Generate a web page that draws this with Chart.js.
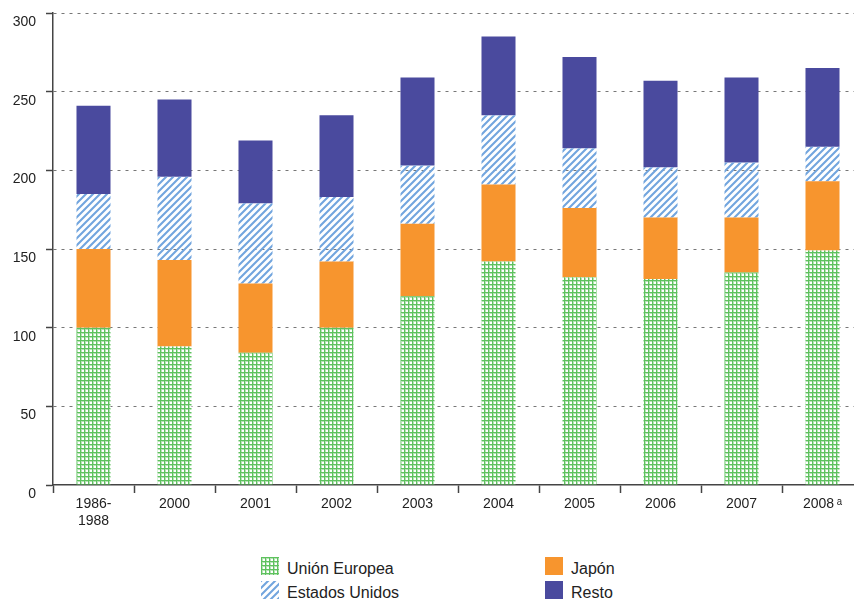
<!DOCTYPE html>
<html>
<head>
<meta charset="utf-8">
<script src="https://cdn.jsdelivr.net/npm/chart.js@4/dist/chart.umd.min.js"></script>
<style>
    html, body { margin: 0; padding: 0; background: #fff; overflow: hidden; }
    #wrap { position: relative; width: 863px; height: 600px; font-family: "Liberation Sans", Arial, sans-serif; }
    #chart { position: absolute; left: 0; top: 0; }
    .leg { position: absolute; display: flex; align-items: center; font-size: 16px; color: #222; height: 18px; }
    .leg canvas { margin-right: 8px; flex: none; }
    .leg span { position: relative; top: 3px; }
</style>
</head>
<body>
<div id="wrap">
    <canvas id="chart" width="863" height="530"></canvas>
    <div class="leg" style="left:261px; top:557px;"><canvas id="swEU" width="18" height="18"></canvas><span>Unión Europea</span></div>
    <div class="leg" style="left:261px; top:581px;"><canvas id="swUS" width="18" height="18"></canvas><span>Estados Unidos</span></div>
    <div class="leg" style="left:545px; top:557px;"><canvas id="swJP" width="18" height="18"></canvas><span>Japón</span></div>
    <div class="leg" style="left:545px; top:581px;"><canvas id="swRE" width="18" height="18"></canvas><span>Resto</span></div>
</div>
<script>
    "use strict";

    // datos (segmentos apilados)
    var categories = [['1986-', '1988'], '2000', '2001', '2002', '2003', '2004', '2005', '2006', '2007', '2008\u2009ᵃ'];
    var unionEuropea = [100, 88, 84, 100, 120, 142, 132, 131, 135, 149];
    var japon = [50, 55, 44, 42, 46, 49, 44, 39, 35, 44];
    var estadosUnidos = [35, 53, 51, 41, 37, 44, 38, 32, 35, 22];
    var resto = [56, 49, 40, 52, 56, 50, 58, 55, 54, 50];
    var yTicks = [0, 50, 100, 150, 200, 250, 300];

    var GREEN = '#5ec25e';
    var GREEN_LIGHT = '#b6e2b6';
    var HATCH = '#72a5de';
    var ORANGE = '#f7952e';
    var PURPLE = '#4a4a9e';

    function gridPattern(g0) {
        var c = document.createElement('canvas');
        c.width = 4;
        c.height = 4;
        var g = c.getContext('2d');
        g.fillStyle = '#ffffff';
        g.fillRect(0, 0, 4, 4);
        g.fillStyle = GREEN_LIGHT;
        g.fillRect(0, 1, 4, 1);
        g.fillRect(1, 0, 1, 4);
        g.fillStyle = GREEN;
        g.fillRect(0, 0, 4, 1);
        g.fillRect(0, 0, 1, 4);
        return g0.createPattern(c, 'repeat');
    }

    function hatchPattern(g0) {
        var c = document.createElement('canvas');
        c.width = 7;
        c.height = 7;
        var g = c.getContext('2d');
        g.strokeStyle = HATCH;
        g.lineWidth = 2.1;
        g.beginPath();
        g.moveTo(-1, 8); g.lineTo(8, -1);
        g.moveTo(-2, 2); g.lineTo(2, -2);
        g.moveTo(5, 9); g.lineTo(9, 5);
        g.stroke();
        return g0.createPattern(c, 'repeat');
    }

    function swatch(id, fill) {
        var g = document.getElementById(id).getContext('2d');
        g.fillStyle = typeof fill === 'function' ? fill(g) : fill;
        g.fillRect(0, 0, 18, 18);
    }

    swatch('swEU', gridPattern);
    swatch('swUS', hatchPattern);
    swatch('swJP', ORANGE);
    swatch('swRE', PURPLE);

    var ctx = document.getElementById('chart').getContext('2d');
    var barOpts = { categoryPercentage: 1, barPercentage: 0.42, borderWidth: 0 };

    new Chart(ctx, {
        type: 'bar',
        data: {
            labels: categories,
            datasets: [
                Object.assign({ label: 'Unión Europea', data: unionEuropea, backgroundColor: gridPattern(ctx) }, barOpts),
                Object.assign({ label: 'Japón', data: japon, backgroundColor: ORANGE }, barOpts),
                Object.assign({ label: 'Estados Unidos', data: estadosUnidos, backgroundColor: hatchPattern(ctx) }, barOpts),
                Object.assign({ label: 'Resto', data: resto, backgroundColor: PURPLE }, barOpts)
            ]
        },
        options: {
            responsive: false,
            animation: false,
            layout: { padding: { top: 13, left: 0, right: 0, bottom: 0 } },
            plugins: {
                legend: { display: false },
                tooltip: { enabled: false }
            },
            scales: {
                x: {
                    stacked: true,
                    afterFit: function (scale) { scale.height = 45; },
                    border: { display: true, color: '#444', width: 1.5 },
                    grid: {
                        offset: true,
                        drawOnChartArea: false,
                        drawTicks: true,
                        tickLength: 8,
                        tickColor: '#444',
                        tickWidth: 1.5
                    },
                    ticks: {
                        color: '#222',
                        padding: 3,
                        maxRotation: 0,
                        autoSkip: false,
                        font: { family: '"Liberation Sans", Arial, sans-serif', size: 14, lineHeight: 1.2 }
                    }
                },
                y: {
                    stacked: true,
                    min: yTicks[0],
                    max: yTicks[yTicks.length - 1],
                    afterFit: function (scale) {
                        scale.width = 53;
                        scale.paddingTop = 0;
                        scale.paddingBottom = 0;
                    },
                    afterBuildTicks: function (scale) {
                        scale.ticks = yTicks.map(function (v) { return { value: v }; });
                    },
                    border: { display: true, color: '#444', width: 1.5, dash: [3, 5] },
                    grid: {
                        color: function (c) { return c.tick && c.tick.value === 0 ? 'rgba(0,0,0,0)' : '#777'; },
                        lineWidth: 1,
                        tickLength: 7,
                        tickColor: '#444',
                        tickWidth: 1.5,
                        tickBorderDash: []
                    },
                    ticks: {
                        color: '#222',
                        padding: 10,
                        labelOffset: 9,
                        font: { family: '"Liberation Sans", Arial, sans-serif', size: 14 }
                    }
                }
            }
        }
    });
</script>
</body>
</html>
